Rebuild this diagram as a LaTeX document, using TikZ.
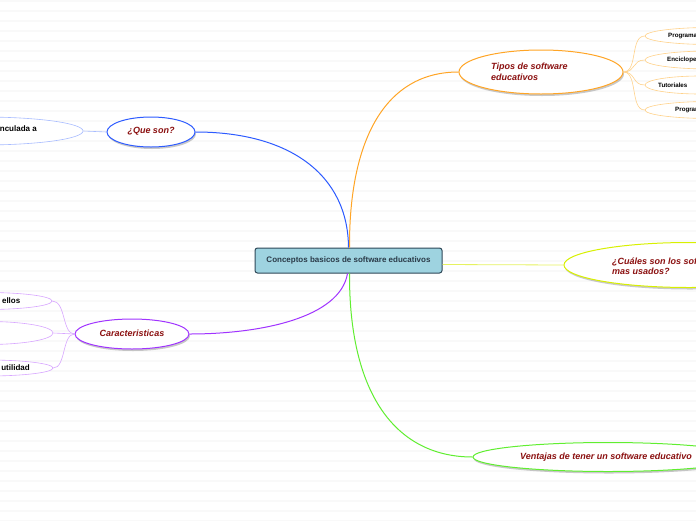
\documentclass[tikz,border=0pt]{standalone}
\usepackage{fontspec}
\setmainfont{Liberation Sans}
\usetikzlibrary{shapes.geometric,shadows}
\definecolor{cblue}{HTML}{2D5BFF}
\definecolor{cblueL}{HTML}{A8BCFF}
\definecolor{cpurple}{HTML}{A033FF}
\definecolor{cpurpleL}{HTML}{D8A6FF}
\definecolor{corange}{HTML}{FFA526}
\definecolor{corangeL}{HTML}{FFD28A}
\definecolor{cyellow}{HTML}{D8F000}
\definecolor{cyellowL}{HTML}{E6F260}
\definecolor{cgreen}{HTML}{60EE30}
\definecolor{cred}{HTML}{8B1010}
\definecolor{cfill}{HTML}{9ED3E0}
\definecolor{cborder}{HTML}{2F4858}
\definecolor{ctext}{HTML}{2A3A48}
\tikzset{
  bgline/.style={draw=black!2.5, line width=1.2pt},
  mainell/.style={ellipse, fill=white, line width=1pt, inner sep=0pt,
    drop shadow={shadow xshift=1pt, shadow yshift=-2pt, opacity=0.35, fill=black!60}},
  subell/.style={ellipse, fill=white, line width=0.6pt, inner sep=0pt},
  headtxt/.style={text=cred, font=\bfseries\itshape\fontsize{9}{10.5}\selectfont, inner sep=0pt, align=left},
  subtxt/.style={text=black, font=\bfseries\fontsize{8}{9}\selectfont, inner sep=0pt},
  smalltxt/.style={text=black, font=\bfseries\fontsize{6.2}{7}\selectfont, inner sep=0pt, anchor=west},
  centerbox/.style={rectangle, rounded corners=2.5pt, fill=cfill, draw=cborder, line width=1pt,
    text=ctext, font=\bfseries\fontsize{8}{9}\selectfont, minimum width=187pt, minimum height=25pt, inner sep=0pt},
  conn/.style={line width=1pt},
  subconn/.style={line width=0.6pt}
}
\begin{document}
\begin{tikzpicture}[x=1pt,y=-1pt]
\useasboundingbox (0,0) rectangle (696,520);
\clip (0,0) rectangle (696,520);
\fill[white] (0,0) rectangle (696,520);
\foreach \yy in {1,11,...,521} \draw[bgline] (0,\yy) -- (696,\yy);

% central
\node[centerbox] (cc) at (348.5,260.5) {Conceptos basicos de software educativos};

% main ellipses
\node[mainell, draw=cblue, minimum width=88pt, minimum height=30pt] (qs) at (151,132) {};
\node[headtxt] (qst) at (151,131) {¿Que son?};

\node[mainell, draw=cpurple, minimum width=114pt, minimum height=30pt] (ca) at (132,334) {};
\node[headtxt] (cat) at (132,333) {Caracteristicas};

\node[mainell, draw=corange, minimum width=164pt, minimum height=44pt] (ti) at (541,72) {};
\node[headtxt, anchor=west] (tit) at (491,72) {Tipos de software\\educativos};

\node[mainell, draw=cyellow, minimum width=250pt, minimum height=45pt] (cu) at (689,265) {};
\node[headtxt, anchor=west] (cut) at (612,266) {¿Cuáles son los software\\mas usados?};

\node[mainell, draw=cgreen, minimum width=270pt, minimum height=29pt] (ve) at (608,457) {};
\node[headtxt, anchor=west] (vet) at (520,457) {Ventajas de tener un software educativo};

% main connectors
\draw[conn, cblue] (cc.north) .. controls (348,175) and (290,132) .. (qs.east);
\draw[conn, corange] ([xshift=1pt]cc.north) .. controls (349,140) and (385,72) .. (ti.west);
\draw[conn, cyellowL, line width=0.8pt] ([yshift=-4pt]cc.east) -- (cu.west);
\draw[conn, cpurple] ([xshift=-1pt]cc.south) .. controls (340,318) and (260,334) .. (ca.east);
\draw[conn, cgreen] ([xshift=1pt]cc.south) .. controls (349,400) and (400,457) .. (ve.west);

% left children of Que son
\node[subell, draw=cblueL, minimum width=200pt, minimum height=28pt] (vi) at (-17,131) {};
\node[subtxt, anchor=east] (vit) at (37,129) {vinculada a};
\draw[subconn, cblueL] (vi.east) -- (qs.west);

% children of Caracteristicas
\node[subell, draw=cpurpleL, minimum width=130pt, minimum height=17pt] (c1) at (-13,301) {};
\node[subell, draw=cpurpleL, minimum width=130pt, minimum height=23pt] (c2) at (-12,333) {};
\node[subell, draw=cpurpleL, minimum width=130pt, minimum height=16pt] (c3) at (-12,368) {};
\node[subtxt, anchor=east] (c1t) at (20.5,301) {ellos};
\node[subtxt, anchor=east] (c3t) at (30,368) {utilidad};
\draw[subconn, cpurpleL] (ca.west) .. controls (62,334) and (66,301) .. (c1.east);
\draw[subconn, cpurpleL] (ca.west) -- (c2.east);
\draw[subconn, cpurpleL] (ca.west) .. controls (62,334) and (66,368) .. (c3.east);

% children of Tipos
\node[subell, draw=corangeL, minimum width=130pt, minimum height=17pt] (t1) at (710,36) {};
\node[subell, draw=corangeL, minimum width=130pt, minimum height=18pt] (t2) at (710,60) {};
\node[subell, draw=corangeL, minimum width=110pt, minimum height=18pt] (t3) at (700,85) {};
\node[subell, draw=corangeL, minimum width=130pt, minimum height=17pt] (t4) at (710,110) {};
\node[smalltxt] (t1t) at (668,36) {Programas};
\node[smalltxt] (t2t) at (667,60) {Enciclopedias};
\node[smalltxt] (t3t) at (658,85) {Tutoriales};
\node[smalltxt] (t4t) at (675,110) {Programas};
\draw[subconn, corangeL] (ti.east) .. controls (638,72) and (630,36) .. (t1.west);
\draw[subconn, corangeL] (ti.east) .. controls (636,72) and (632,60) .. (t2.west);
\draw[subconn, corangeL] (ti.east) .. controls (636,72) and (632,85) .. (t3.west);
\draw[subconn, corangeL] (ti.east) .. controls (638,72) and (630,110) .. (t4.west);
\end{tikzpicture}
\end{document}
